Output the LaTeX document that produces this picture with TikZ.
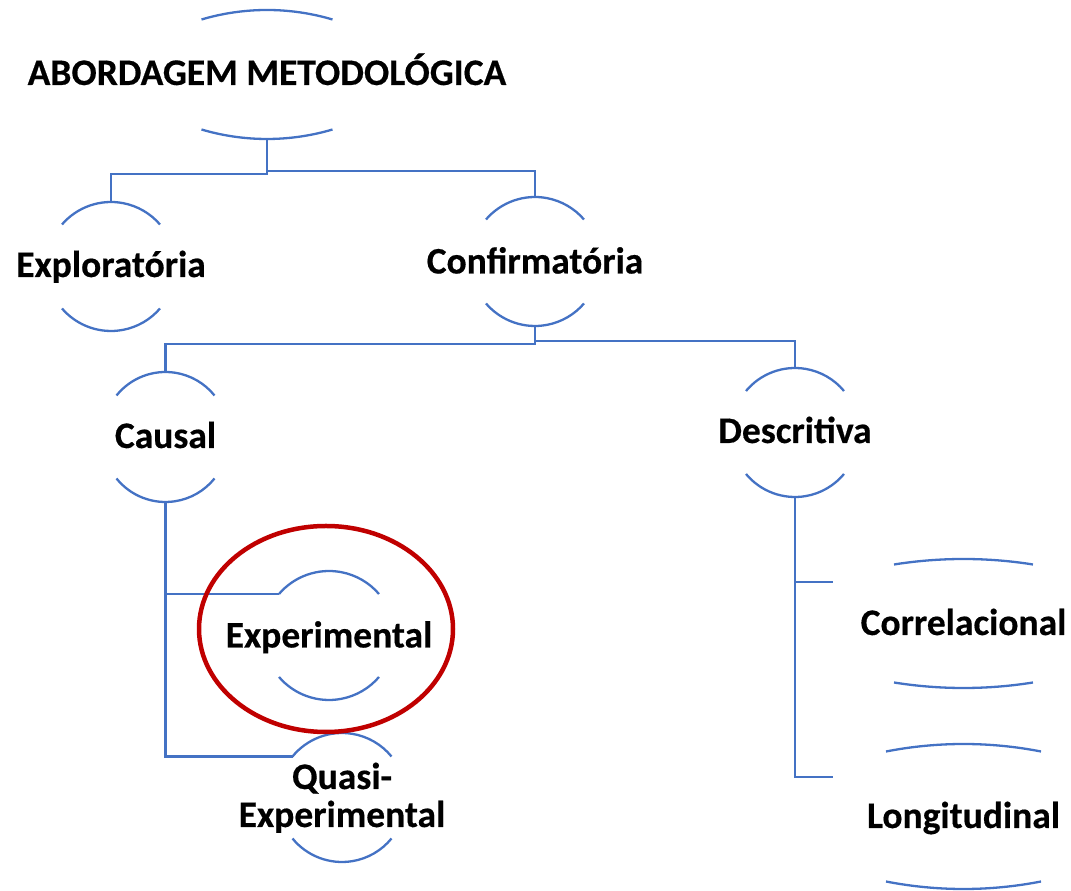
\documentclass[tikz,border=0pt]{standalone}
\usepackage{fontspec}
\setmainfont{Carlito}[BoldFeatures={FakeBold=0.4}]
\usetikzlibrary{calc}
\definecolor{linkblue}{RGB}{68,114,196}
\definecolor{markred}{RGB}{192,0,0}
\newcommand\capsarcs[5]{%
  \pgfmathsetmacro\myrr{(#2*#2+#3*#3)/(2*#3)}%
  \pgfmathsetmacro\myth{asin(#2/\myrr)}%
  \coordinate (#1-top) at ($(#1.center)+(0,#4)$);
  \coordinate (#1-bot) at ($(#1.center)+(0,-#5)$);
  \coordinate (#1-tl) at ($(#1.center)+(-#2,#4-#3)$);
  \draw[arcline] (#1-tl) arc[start angle=90+\myth, end angle=90-\myth, radius=\myrr pt];
  \draw[arcline] ($(#1.center)+(-#2,-#5+#3)$) arc[start angle=270-\myth, end angle=270+\myth, radius=\myrr pt];
}
\begin{document}
\begin{tikzpicture}[x=1pt,y=1pt,
  arcline/.style={draw=linkblue,line width=2.3pt},
  link/.style={draw=linkblue,line width=2.3pt},
  lbl/.style={inner sep=0pt,font=\fontsize{37.5}{38}\selectfont\bfseries,text height=24pt,text depth=0pt,anchor=center},
  highlight/.style={draw=markred,line width=4.5pt}]
\useasboundingbox (0,0) rectangle (1071,891);
% nodes
\node[lbl] (ab) at (267,818) {ABORDAGEM METODOLÓGICA};
\node[lbl] (expl) at (111,626) {Exploratória};
\node[lbl] (conf) at (535,629.5) {Confirmatória};
\node[lbl] (causal) at (165.5,455) {Causal};
\node[lbl] (descr) at (795,460) {Descritiva};
\node[lbl] (exper) at (329,255.5) {Experimental};
\node[lbl,align=center,text height=62pt] (quasi) at (342,95) {Quasi-\\Experimental};
\node[lbl] (correl) at (963.5,268) {Correlacional};
\node[lbl] (longi) at (963.5,75) {Longitudinal};
% arcs
\capsarcs{ab}{65.5}{9.5}{63}{66}
\capsarcs{expl}{49}{22.5}{63}{66}
\capsarcs{conf}{49}{22.5}{64.5}{64.5}
\capsarcs{causal}{49}{23.5}{64}{66}
\capsarcs{descr}{49}{23}{63}{66}
\capsarcs{exper}{50}{23}{64.5}{64.5}
\capsarcs{quasi}{49.5}{23.5}{63}{66}
\capsarcs{correl}{69.5}{5.5}{64}{65}
\capsarcs{longi}{77.5}{7.5}{72}{73}
% connectors
\draw[link] (ab-bot) -- ++(0,-35) -| (expl-top);
\draw[link] (ab-bot) -- ++(0,-32) -| (conf-top);
\draw[link] (conf-bot) -- ++(0,-18) -| (causal-top);
\draw[link] (conf-bot) -- ++(0,-15) -| (descr-top);
\draw[link] (causal-bot) |- (exper-tl);
\draw[link] (causal-bot) |- (quasi-tl);
\coordinate (c1) at (833,309);
\coordinate (c2) at (833,114);
\draw[link] (descr-bot) |- (c1);
\draw[link] (descr-bot) |- (c2);
% highlight
\draw[highlight] (326,262) ellipse[x radius=127, y radius=103];
\end{tikzpicture}
\end{document}
